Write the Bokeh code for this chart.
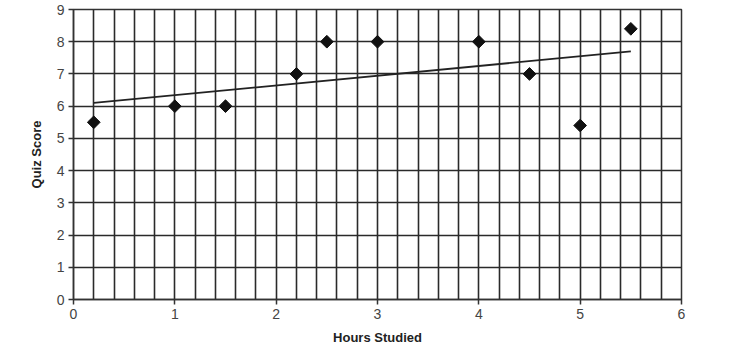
import numpy as np
from bokeh.plotting import figure
from bokeh.models import Range1d, FixedTicker, ColumnDataSource
from bokeh.embed import file_html
from bokeh.resources import INLINE

hours = [0.2, 1.0, 1.5, 2.2, 2.5, 3.0, 4.0, 4.5, 5.0, 5.5]
scores = [5.5, 6.0, 6.0, 7.0, 8.0, 8.0, 8.0, 7.0, 5.4, 8.4]
trend_x = [0.2, 5.5]
trend_y = [6.1, 7.7]
x_ticks = [0, 1, 2, 3, 4, 5, 6]
y_ticks = [0, 1, 2, 3, 4, 5, 6, 7, 8, 9]
x_grid = [round(i * 0.2, 1) for i in range(31)]

p = figure(output_backend="svg", toolbar_location=None,
           frame_width=608, frame_height=290,
           min_border_left=73, min_border_right=44,
           min_border_top=9, min_border_bottom=45,
           x_range=Range1d(0, 6), y_range=Range1d(0, 9))
p.background_fill_color = "white"
p.border_fill_color = "white"
p.outline_line_color = "#333333"
p.outline_line_width = 1.5

p.xaxis.ticker = FixedTicker(ticks=x_ticks)
p.yaxis.ticker = FixedTicker(ticks=y_ticks)
p.xgrid.ticker = FixedTicker(ticks=x_grid)
p.ygrid.ticker = FixedTicker(ticks=y_ticks)
for g in (p.xgrid, p.ygrid):
    g.grid_line_color = "#2a2a2a"
    g.grid_line_width = 1.6
    g.grid_line_alpha = 1.0

for ax in (p.xaxis, p.yaxis):
    ax.axis_line_color = "#333333"
    ax.axis_line_width = 1.5
    ax.major_tick_line_color = "#333333"
    ax.major_tick_line_width = 1.5
    ax.major_tick_in = 0
    ax.major_tick_out = 5
    ax.minor_tick_line_color = None
    ax.major_label_text_font = "Liberation Sans"
    ax.major_label_text_font_size = "14px"
    ax.major_label_text_color = "#444444"
    ax.major_label_standoff = 4
    ax.axis_label_text_font = "Liberation Sans"
    ax.axis_label_text_font_size = "13px"
    ax.axis_label_text_font_style = "bold"
    ax.axis_label_text_color = "#222222"

p.xaxis.axis_label = "Hours Studied"
p.yaxis.axis_label = "Quiz Score"
p.xaxis.axis_label_standoff = 8
p.yaxis.axis_label_standoff = 10

p.line(trend_x, trend_y, line_color="#222222", line_width=1.8)
src = ColumnDataSource(dict(x=hours, y=scores))
p.scatter("x", "y", source=src, marker="square", angle=np.pi / 4,
          size=9, fill_color="#111111", line_color="#111111")

open("out.html", "w").write(file_html(p, INLINE))
